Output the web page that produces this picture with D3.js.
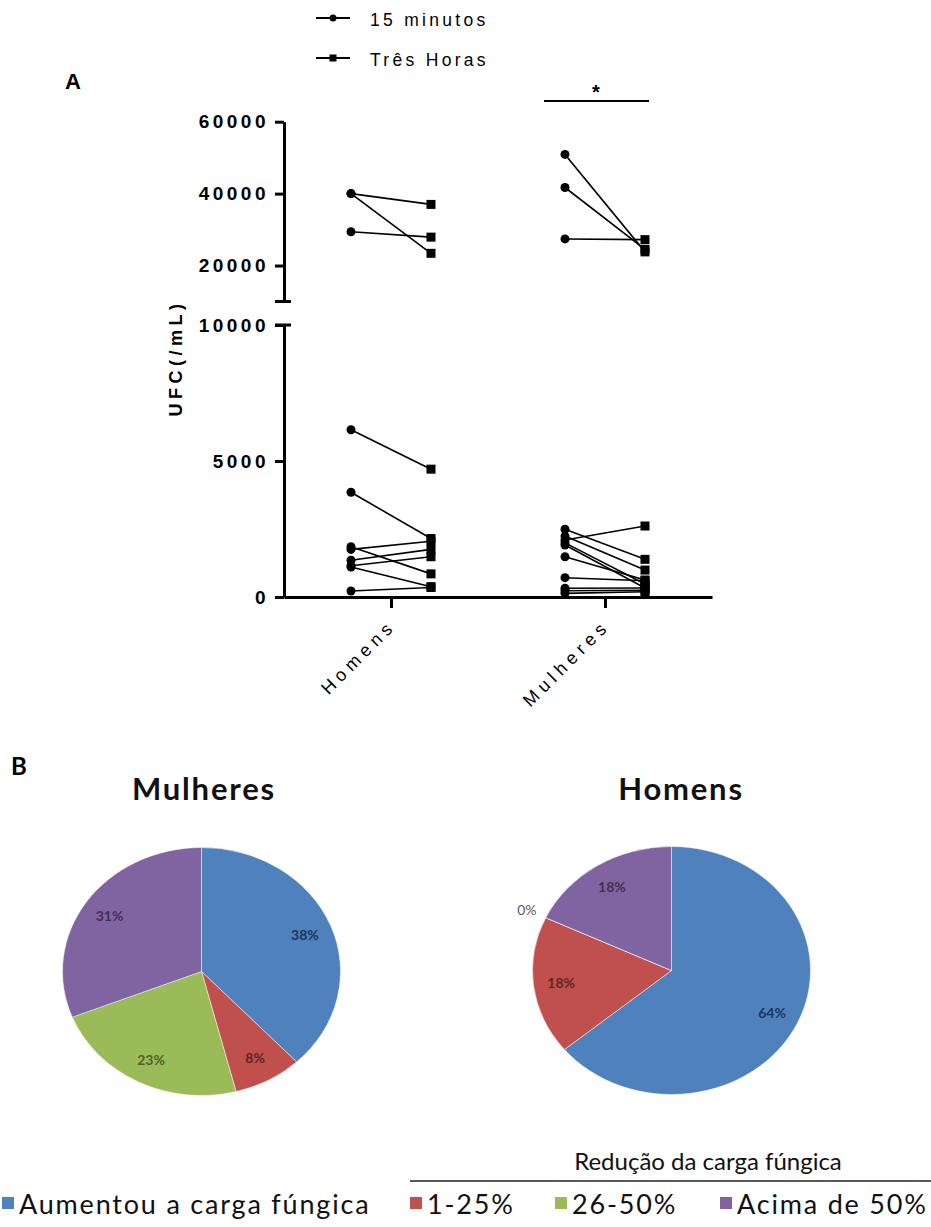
<!DOCTYPE html>
<html>
<head>
<meta charset="utf-8">
<script src="https://cdn.jsdelivr.net/npm/d3@7"></script>
<style>
  body { margin: 0; background: #fff; }
  svg { display: block; }
</style>
</head>
<body>
<script>
// ---- data ----
const groups = ["Homens", "Mulheres"];
const series = ["15 minutos", "Três Horas"];

// paired values, UFC/mL, one entry per subject
const homens15  = [40000, 40000, 29400, 6150, 3850, 1850, 1750, 1350, 1150, 1100, 220];
const homens3h  = [37000, 23400, 27900, 4700, 2150,  850, 2050, 1750, 1480,  380, 350];
const mulheres15 = [50900, 41700, 27400, 2490, 2240, 2095, 1990, 1910, 1480, 710, 320, 230, 135];
const mulheres3h = [23800, 24500, 27200, 1385,  990, 2610,  480,  330,  625, 600, 330, 250, 195];

const lowTicks = [0, 5000, 10000];
const highTicks = [20000, 40000, 60000];

const pieCategories = ["Aumentou a carga fúngica", "1-25%", "26-50%", "Acima de 50%"];
const mulheresPie = [38, 8, 23, 31];
const homensPie = [64, 18, 0, 18];
const pieColors = ["#4F81BD", "#C0504D", "#9BBB59", "#8064A2"];
const pieLabelColors = ["#17375E", "#632523", "#4F6228", "#3F3151"];

// ---- svg ----
const svg = d3.select("body").append("svg")
    .attr("width", 931).attr("height", 1227);

const axisFont = "'Liberation Sans', Arial, sans-serif";
const pieFont = "Lato, 'Open Sans', sans-serif";

// ---- panel A scales ----
const x = d3.scalePoint().domain(groups).range([284, 712]).padding(0.5);
const t = d3.scalePoint().domain(series).range([-40, 40]);
const yLow = d3.scaleLinear().domain([0, 10000]).range([597, 325]);
const yHigh = d3.scaleLinear().domain([10000, 60000]).range([301.5, 121.7]);
function y(v) { return v >= 10000 ? yHigh(v) : yLow(v); }

function styleAxis(g) {
    g.selectAll("path.domain").attr("stroke", "#000").attr("stroke-width", 3);
    g.selectAll(".tick line").attr("stroke", "#000").attr("stroke-width", 3);
    g.selectAll(".tick text")
        .attr("font-family", axisFont).attr("font-size", "19px").attr("font-weight", "bold")
        .attr("letter-spacing", "3.5px").attr("fill", "#000");
}

// lower segment of y axis
svg.append("g").attr("transform", "translate(284,0)")
    .call(d3.axisLeft(yLow).tickValues(lowTicks).tickSize(9).tickSizeOuter(0).tickPadding(6).tickFormat(d3.format("d")))
    .call(styleAxis);

// upper segment of y axis
svg.append("g").attr("transform", "translate(284,0)")
    .call(d3.axisLeft(yHigh).tickValues(highTicks).tickSize(9).tickSizeOuter(0).tickPadding(6).tickFormat(d3.format("d")))
    .call(styleAxis);

// caps at the axis break
[yHigh(10000), yLow(10000)].forEach(function (yy) {
    svg.append("line").attr("x1", 275).attr("x2", 291).attr("y1", yy).attr("y2", yy)
        .attr("stroke", "#000").attr("stroke-width", 3);
});

// x axis
svg.append("g").attr("transform", "translate(0,597)")
    .call(d3.axisBottom(x).tickSize(11).tickSizeOuter(0).tickFormat(""))
    .call(styleAxis);

groups.forEach(function (g) {
    svg.append("text")
        .attr("transform", "translate(" + (x(g) + 6) + ",627) rotate(-45)")
        .attr("text-anchor", "end")
        .attr("font-family", axisFont).attr("font-size", "18px")
        .attr("letter-spacing", "5px")
        .text(g);
});

// y axis title
svg.append("text")
    .attr("transform", "translate(182,358) rotate(-90)")
    .attr("text-anchor", "middle")
    .attr("font-family", axisFont).attr("font-size", "18px").attr("font-weight", "bold")
    .attr("letter-spacing", "4.5px")
    .text("UFC(/mL)");

// paired subjects
const subjects = [];
homens15.forEach(function (v, i) { subjects.push({ group: "Homens", a: v, b: homens3h[i] }); });
mulheres15.forEach(function (v, i) { subjects.push({ group: "Mulheres", a: v, b: mulheres3h[i] }); });

const pairs = svg.append("g");
pairs.selectAll("line").data(subjects).join("line")
    .attr("x1", d => x(d.group) + t(series[0]))
    .attr("x2", d => x(d.group) + t(series[1]))
    .attr("y1", d => y(d.a))
    .attr("y2", d => y(d.b))
    .attr("stroke", "#000").attr("stroke-width", 1.6);

pairs.selectAll("circle").data(subjects).join("circle")
    .attr("cx", d => x(d.group) + t(series[0]))
    .attr("cy", d => y(d.a))
    .attr("r", 4.5).attr("fill", "#000");

pairs.selectAll("rect").data(subjects).join("rect")
    .attr("x", d => x(d.group) + t(series[1]) - 4.5)
    .attr("y", d => y(d.b) - 4.5)
    .attr("width", 9).attr("height", 9).attr("fill", "#000");

// significance bar over Mulheres
svg.append("line")
    .attr("x1", x("Mulheres") - 61).attr("x2", x("Mulheres") + 44)
    .attr("y1", 101).attr("y2", 101)
    .attr("stroke", "#000").attr("stroke-width", 2);
svg.append("text")
    .attr("x", x("Mulheres") - 9).attr("y", 99)
    .attr("text-anchor", "middle")
    .attr("font-family", axisFont).attr("font-size", "20px").attr("font-weight", "bold")
    .text("*");

// top legend
series.forEach(function (s, i) {
    const ly = 18 + i * 40;
    svg.append("line").attr("x1", 316).attr("x2", 350).attr("y1", ly).attr("y2", ly)
        .attr("stroke", "#000").attr("stroke-width", 2);
    if (i === 0) {
        svg.append("circle").attr("cx", 333).attr("cy", ly).attr("r", 3.5).attr("fill", "#000");
    } else {
        svg.append("rect").attr("x", 329.5).attr("y", ly - 3.5).attr("width", 7).attr("height", 7).attr("fill", "#000");
    }
    svg.append("text").attr("x", 370).attr("y", ly + 8)
        .attr("font-family", axisFont).attr("font-size", "17.5px")
        .attr("letter-spacing", "3.3px")
        .text(s);
});

// panel letters
svg.append("text").attr("x", 65).attr("y", 89)
    .attr("font-family", axisFont).attr("font-size", "22px").attr("font-weight", "bold").text("A");
svg.append("text").attr("x", 11).attr("y", 775)
    .attr("font-family", pieFont).attr("font-size", "24px").attr("font-weight", "bold").text("B");

// ---- panel B: pies ----
const rx = 139, ry = 124;
const pie = d3.pie().sort(null).value(d => d);
const arc = d3.arc().innerRadius(0).outerRadius(rx);

function drawPie(values, cx, cy, title, titleX) {
    const g = svg.append("g").attr("transform", "translate(" + cx + "," + cy + ")");
    const slices = pie(values);

    g.append("g").attr("transform", "scale(1," + (ry / rx) + ")")
        .selectAll("path").data(slices).join("path")
        .attr("d", arc)
        .attr("fill", (d, i) => pieColors[i])
        .attr("stroke", "#fff").attr("stroke-opacity", 0.5).attr("stroke-width", 1);

    g.selectAll("text").data(slices).join("text")
        .each(function (d, i) {
            const a = (d.startAngle + d.endAngle) / 2;
            const k = d.value === 0 ? 1.15 : 0.8;
            d3.select(this)
                .attr("x", Math.sin(a) * k * rx)
                .attr("y", -Math.cos(a) * k * ry)
                .attr("fill", d.value === 0 ? "#595959" : pieLabelColors[i])
                .attr("font-weight", d.value === 0 ? "normal" : "bold");
        })
        .attr("text-anchor", "middle").attr("dy", "0.35em")
        .attr("font-family", pieFont).attr("font-size", "14px")
        .text(d => d.value + "%");

    svg.append("text").attr("x", titleX).attr("y", 800)
        .attr("text-anchor", "middle")
        .attr("font-family", pieFont).attr("font-size", "31px").attr("font-weight", "bold")
        .attr("letter-spacing", "1.8px")
        .attr("fill", "#111")
        .text(title);
}

drawPie(mulheresPie, 201.5, 971.5, "Mulheres", 204);
drawPie(homensPie, 671.5, 970.5, "Homens", 681);

// ---- bottom legend ----
svg.append("text").attr("x", 708).attr("y", 1170)
    .attr("text-anchor", "middle")
    .attr("font-family", pieFont).attr("font-size", "24px")
    .attr("fill", "#111")
    .text("Redução da carga fúngica");
svg.append("line").attr("x1", 410).attr("x2", 931).attr("y1", 1181).attr("y2", 1181)
    .attr("stroke", "#595959").attr("stroke-width", 2);

const legendX = [2, 410, 555, 720];
pieCategories.forEach(function (c, i) {
    svg.append("rect").attr("x", legendX[i]).attr("y", 1197).attr("width", 12).attr("height", 12)
        .attr("fill", pieColors[i]);
    svg.append("text").attr("x", legendX[i] + 17).attr("y", 1214)
        .attr("font-family", pieFont).attr("font-size", "27px")
        .attr("letter-spacing", "1.8px")
        .attr("fill", "#111")
        .text(c);
});
</script>
</body>
</html>
